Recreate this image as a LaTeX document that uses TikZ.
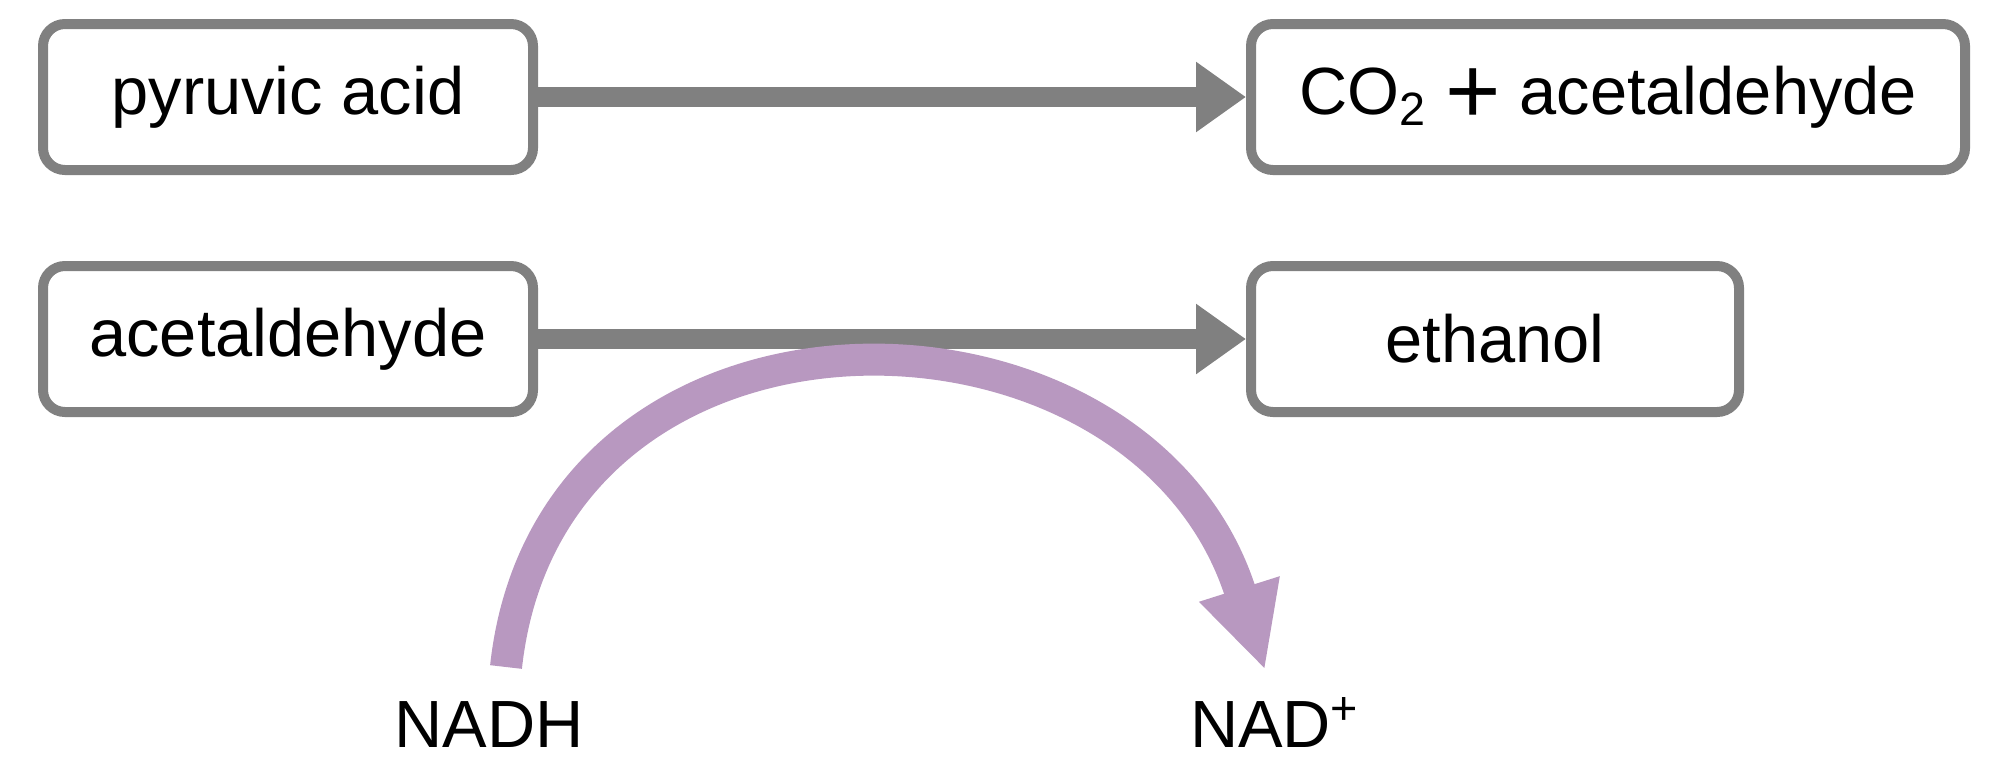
\documentclass[tikz,border=0pt]{standalone}
\usepackage{fontspec}
\setmainfont{Liberation Sans}
\usetikzlibrary{positioning, arrows.meta, calc}

\definecolor{boxgray}{RGB}{128,128,128}
\definecolor{nadpurple}{RGB}{184,152,192}

\tikzset{
	molbox/.style={draw=boxgray, line width=0.1cm, rounded corners=0.22cm, fill=white,
		minimum height=1.46cm, inner sep=0pt},
	stepline/.style={-{Triangle[length=0.5cm, width=0.67cm]}, line width=0.2cm, boxgray},
	labeltext/.style={font=\fontsize{19}{22}\selectfont}
}

\begin{document}
\begin{tikzpicture}[every node/.style={labeltext}]
		
		\useasboundingbox (0,0) rectangle (19.93,-7.56);
		
		% Step 1
		\node[molbox, minimum width=4.9cm] (pyr) at (2.88, -0.97) {pyruvic acid};
		\node[molbox, minimum width=7.14cm] (co2) at (16.08, -0.97)
		{CO\textsubscript{2} \raisebox{-2.5pt}{\fontsize{27}{27}\selectfont +} acetaldehyde};
		\draw[stepline] (pyr) -- (co2);
		
		% Step 2
		\node[molbox, minimum width=4.9cm] (acet) at (2.88, -3.39) {acetaldehyde};
		\node[molbox, minimum width=4.88cm] (eth) at (14.95, -3.39) {ethanol};
		\draw[stepline] (acet) -- (eth);
		
		% NADH to NAD+
		\node[anchor=base, inner sep=0pt] (nadh) at (4.89, -7.47) {NADH};
		\node[anchor=base, inner sep=0pt] (nad) at (12.75, -7.47) {NAD\textsuperscript{+}};
		\coordinate (arcstart) at (5.06, -6.67);
		\coordinate (arcend) at (12.65, -6.70);
		\draw[-{Triangle[length=0.85cm, width=0.78cm]}, line width=0.32cm, nadpurple]
		(arcstart) .. controls (5.5, -2.65) and (11.4, -2.75) .. (arcend);
		
	\end{tikzpicture}
\end{document}
